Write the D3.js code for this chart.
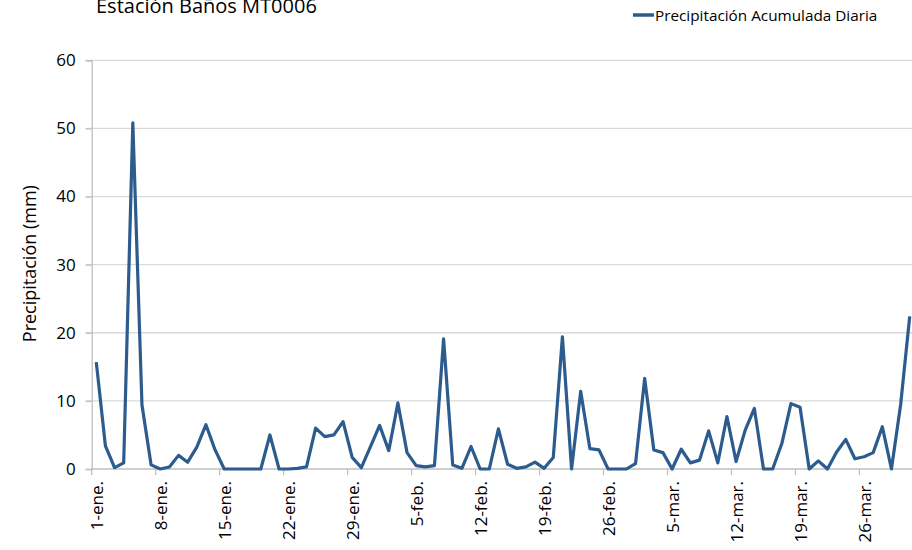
<!DOCTYPE html>
<html><head><meta charset="utf-8">
<script src="https://cdn.jsdelivr.net/npm/d3@7"></script>
<style>
html,body{margin:0;padding:0;background:#fff;overflow:hidden}
svg{display:block;font-family:"Open Sans","Noto Sans",sans-serif}
</style></head>
<body><svg id="chart" width="912" height="550"></svg>
<script>
// ---- data ----
const title = "Estación Baños MT0006";
const seriesName = "Precipitación Acumulada Diaria";
const yTitle = "Precipitación (mm)";
const monthNames = ["ene.", "feb.", "mar."];
const monthDays = [31, 28, 31];
const precip = [
  15.7, 3.4, 0.2, 0.9, 50.8, 9.4, 0.6, 0.0, 0.3, 2.0,
  1.0, 3.2, 6.5, 2.8, 0.0, 0.0, 0.0, 0.0, 0.0, 5.0,
  0.0, 0.0, 0.1, 0.3, 6.0, 4.75, 5.0, 6.95, 1.7, 0.2,
  3.3, 6.4, 2.7, 9.7, 2.4, 0.5, 0.3, 0.5, 19.1, 0.6,
  0.1, 3.3, 0.0, 0.0, 5.9, 0.7, 0.1, 0.3, 1.0, 0.1,
  1.7, 19.4, 0.0, 11.4, 3.0, 2.8, 0.0, 0.0, 0.0, 0.8,
  13.3, 2.8, 2.4, 0.0, 2.9, 0.9, 1.3, 5.6, 0.9, 7.7,
  1.1, 5.7, 8.9, 0.0, 0.0, 3.7, 9.6, 9.05, 0.0, 1.2,
  0.0, 2.5, 4.35, 1.5, 1.8, 2.4, 6.2, 0.0, 9.4, 22.4
];
const yTicks = [0, 10, 20, 30, 40, 50, 60];
const tickLabels = ["1-ene.", "8-ene.", "15-ene.", "22-ene.", "29-ene.", "5-feb.", "12-feb.",
                    "19-feb.", "26-feb.", "5-mar.", "12-mar.", "19-mar.", "26-mar."];

// categories (day labels)
const categories = [];
monthDays.forEach((n, m) => { for (let d = 1; d <= n; d++) categories.push(d + "-" + monthNames[m]); });

// ---- layout ----
const svg = d3.select("#chart");
const pLeft = 91.7, pTop = 60.3, pBottom = 469, pRight = pLeft + 90 * 9.14;
const x = d3.scaleBand().domain(d3.range(categories.length)).range([pLeft, pRight]).padding(0);
const y = d3.scaleLinear().domain([0, 60]).range([pBottom, pTop]);
const cx = i => x(i) + x.bandwidth() / 2;

// gridlines
svg.append("g").selectAll("line").data(yTicks.filter(t => t > 0)).join("line")
  .attr("x1", pLeft - 6).attr("x2", 912)
  .attr("y1", d => y(d)).attr("y2", d => y(d))
  .attr("stroke", "#d9d9d9").attr("stroke-width", 1.3);

// y axis
const yAxis = svg.append("g").attr("transform", `translate(${pLeft},0)`)
  .call(d3.axisLeft(y).tickValues(yTicks).tickSize(6).tickPadding(10));
yAxis.select(".domain").attr("stroke", "#bfbfbf").attr("stroke-width", 1.3);
yAxis.selectAll(".tick line").attr("stroke", "#bfbfbf").attr("stroke-width", 1.3);
yAxis.selectAll(".tick text").attr("font-size", 17).attr("fill", "#000")
  .attr("font-family", "'Open Sans',sans-serif");

// x axis line
svg.append("line").attr("x1", pLeft).attr("x2", 912).attr("y1", pBottom).attr("y2", pBottom)
  .attr("stroke", "#bfbfbf").attr("stroke-width", 1.3);

// x ticks at category boundaries every 7 days
const tickIdx = tickLabels.map(l => categories.indexOf(l));
svg.append("g").selectAll("line").data(tickIdx).join("line")
  .attr("x1", i => x(i)).attr("x2", i => x(i))
  .attr("y1", pBottom).attr("y2", pBottom + 6)
  .attr("stroke", "#bfbfbf").attr("stroke-width", 1.3);

// x labels rotated
svg.append("g").selectAll("text").data(tickIdx).join("text")
  .attr("transform", i => `translate(${cx(i) + 6.5},${pBottom + 12}) rotate(-90)`)
  .attr("text-anchor", "end")
  .attr("font-size", 17).attr("fill", "#000")
  .text(i => categories[i]);

// y title
svg.append("text")
  .attr("transform", `translate(36,${(pTop + pBottom) / 2 - 1}) rotate(-90)`)
  .attr("text-anchor", "middle").attr("font-size", 18).attr("fill", "#000")
  .text(yTitle);

// line
const line = d3.line().x((d, i) => cx(i)).y(d => y(d));
svg.append("path").datum(precip)
  .attr("d", line).attr("fill", "none")
  .attr("stroke", "#2c5b8e").attr("stroke-width", 3.2)
  .attr("stroke-linejoin", "round");

// title (clipped at the top edge as in the reference)
svg.append("text").attr("x", 96).attr("y", 13)
  .attr("font-size", 20).attr("fill", "#000").text(title);

// legend
svg.append("line").attr("x1", 633).attr("x2", 654).attr("y1", 15).attr("y2", 15)
  .attr("stroke", "#2c5b8e").attr("stroke-width", 3.5);
svg.append("text").attr("x", 655).attr("y", 20.5)
  .attr("font-size", 15.3).attr("fill", "#000").text(seriesName);
</script></body></html>
